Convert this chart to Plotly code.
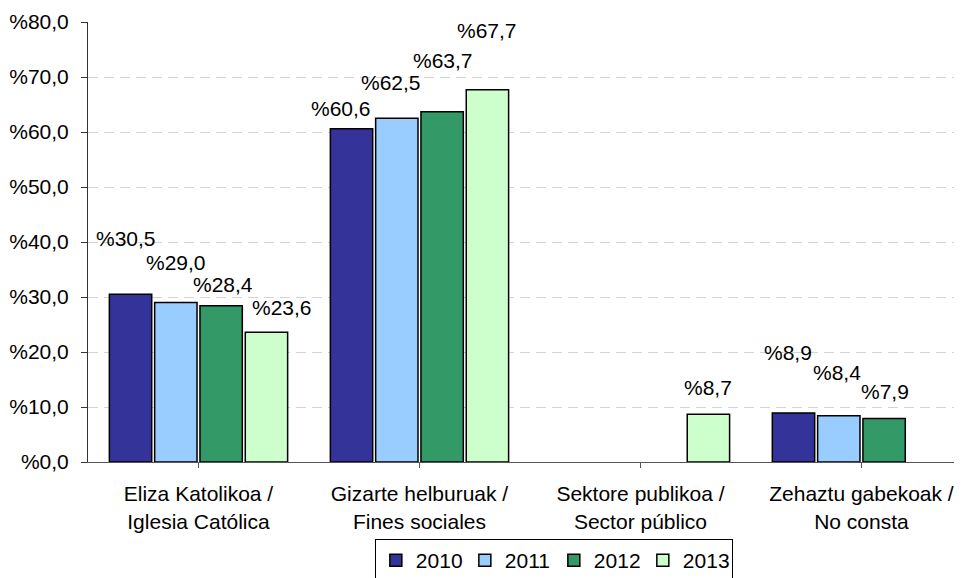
import plotly.graph_objects as go

categories = ["Eliza Katolikoa /<br>Iglesia Católica", "Gizarte helburuak /<br>Fines sociales",
              "Sektore publikoa /<br>Sector público", "Zehaztu gabekoak /<br>No consta"]
years = ["2010", "2011", "2012", "2013"]
v2010 = [30.5, 60.6, None, 8.9]
v2011 = [29.0, 62.5, None, 8.4]
v2012 = [28.4, 63.7, None, 7.9]
v2013 = [23.6, 67.7, 8.7, None]
yticks = [0, 10, 20, 30, 40, 50, 60, 70, 80]

series = [v2010, v2011, v2012, v2013]
colors = ["#333399", "#99CCFF", "#339966", "#CCFFCC"]
# label offsets in px (dx, dy above bar top) – style only
label_off = [
    [(-5, 56), (-11, 20), None, (-6, 61)],
    [(0, 40), (-6, 36), None, (-2, 43)],
    [(2, 21), (1, 51), None, (1, 27)],
    [(16, 25), (0, 59), (0, 27), None],
]

FONT = "Liberation Sans, Arial, sans-serif"
FS = 21
bargap = 0.18
fig = go.Figure()
for j, (yr, vals) in enumerate(zip(years, series)):
    fig.add_trace(go.Bar(x=list(range(len(categories))), y=vals, name=yr,
                         marker=dict(color=colors[j], line=dict(color="black", width=1.5))))

slot = (1 - bargap) / 4
annots = []
for j, vals in enumerate(series):
    for i, v in enumerate(vals):
        if v is None:
            continue
        dx, dy = label_off[j][i]
        annots.append(dict(x=i + (j - 1.5) * slot, y=v, xref="x", yref="y",
                           text="%" + f"{v:.1f}".replace(".", ","), showarrow=False,
                           xshift=dx, yshift=dy, yanchor="middle", xanchor="center",
                           font=dict(family=FONT, size=FS, color="black")))

# page body has an 8px default margin, so the figure is sized to fit the window
fig.update_layout(
    width=954, height=570,
    margin=dict(l=80, r=0, t=14, b=116, autoexpand=False),
    paper_bgcolor="white", plot_bgcolor="white",
    barmode="group", bargap=bargap, bargroupgap=0.065,
    font=dict(family=FONT, size=FS, color="black"),
    annotations=annots,
    legend=dict(orientation="h", x=0.533, xanchor="center", y=-0.175, yanchor="top",
                bordercolor="black", borderwidth=1, font=dict(size=FS),
                traceorder="normal", entrywidth=44, entrywidthmode="pixels"),
    showlegend=True,
)
fig.update_xaxes(range=[-0.5, 3.455], tickvals=list(range(len(categories))), ticktext=categories,
                 ticks="outside", ticklen=5, tickcolor="#555", showline=True, linecolor="#555",
                 linewidth=1, showgrid=False, zeroline=False, ticklabelstandoff=8,
                 tickfont=dict(size=FS), automargin=False)
fig.update_yaxes(range=[0, 80], tickvals=yticks,
                 ticktext=["%" + f"{t:.1f}".replace(".", ",") for t in yticks],
                 ticks="outside", ticklen=6, tickcolor="#333", showline=True, linecolor="#333",
                 linewidth=1, showgrid=True, gridcolor="#d4d4d4", griddash="10px,6px",
                 gridwidth=1, zeroline=False, ticklabelstandoff=8, tickfont=dict(size=FS),
                 automargin=False)

fig.write_html("out.html")
